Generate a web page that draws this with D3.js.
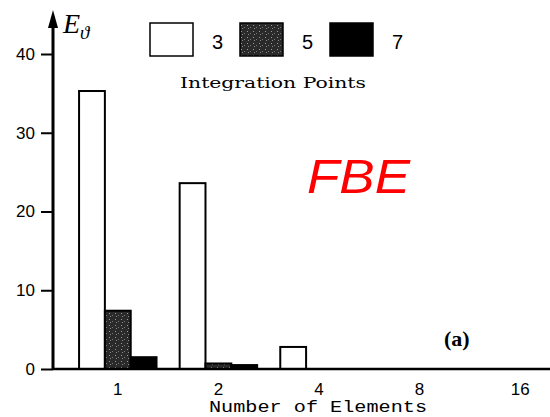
<!DOCTYPE html>
<html><head><meta charset="utf-8">
<script src="https://cdn.jsdelivr.net/npm/d3@7"></script>
<style>body{margin:0;background:#fff}</style>
</head><body>
<svg id="c" width="550" height="417"></svg>
<script>
const categories = ["1","2","4","8","16"];
const seriesNames = ["3","5","7"];
const values3 = [35.3, 23.6, 2.8, 0, 0];
const values5 = [7.4, 0.7, 0, 0, 0];
const values7 = [1.5, 0.5, 0, 0, 0];
const yTicks = [0,10,20,30,40];

const svg = d3.select("#c");
const defs = svg.append("defs");
const pat = defs.append("pattern").attr("id","tex").attr("patternUnits","userSpaceOnUse")
  .attr("width",6).attr("height",6);
pat.append("rect").attr("width",6).attr("height",6).attr("fill","#2a2a2a");
pat.append("rect").attr("x",1).attr("y",1).attr("width",1).attr("height",1).attr("fill","#999");
pat.append("rect").attr("x",4).attr("y",3).attr("width",1).attr("height",1).attr("fill","#777");
pat.append("rect").attr("x",2).attr("y",4).attr("width",1).attr("height",1).attr("fill","#888");

const fills = ["#fff","url(#tex)","#000"];
const x0 = 53;
const y = d3.scaleLinear().domain([0,40]).range([369,54]);
const x = d3.scaleBand().domain(categories).range([69, 569]).paddingInner(0.23).paddingOuter(0.1);
const xs = d3.scaleBand().domain(seriesNames).range([0, x.bandwidth()]);

const data = categories.map((c,i)=>({c, v:[values3[i],values5[i],values7[i]]}));

const g = svg.append("g");
data.forEach(d=>{
  seriesNames.forEach((s,j)=>{
    const v = d.v[j];
    if (v <= 0) return;
    g.append("rect")
      .attr("x", x(d.c)+xs(s)).attr("y", y(v))
      .attr("width", xs.bandwidth()).attr("height", y(0)-y(v))
      .attr("fill", fills[j]).attr("stroke","#000").attr("stroke-width",2);
  });
});

// baseline
svg.append("line").attr("x1",x0).attr("x2",550).attr("y1",y(0)).attr("y2",y(0))
  .attr("stroke","#000").attr("stroke-width",2.5);

// y axis
const yAxis = d3.axisLeft(y).tickValues(yTicks).tickSize(12).tickPadding(6);
const ya = svg.append("g").attr("transform",`translate(${x0},0)`).call(yAxis);
ya.select(".domain").remove();
ya.selectAll(".tick line").attr("stroke-width",2);
ya.selectAll(".tick text").attr("font-family","Liberation Sans, Arial, sans-serif").attr("font-size",17).attr("fill","#000");
svg.append("line").attr("x1",x0).attr("x2",x0).attr("y1",370).attr("y2",22)
  .attr("stroke","#000").attr("stroke-width",3);
svg.append("path").attr("d",`M${x0-5},28 L${x0},10 L${x0+5},28 Z`).attr("fill","#000");

// x axis labels
const xa = d3.axisBottom(x).tickSize(0).tickPadding(14);
const xg = svg.append("g").attr("transform",`translate(0,${y(0)})`).call(xa);
xg.select(".domain").remove();
xg.selectAll(".tick text").attr("font-family","Liberation Sans, Arial, sans-serif").attr("font-size",17).attr("fill","#000");

svg.append("text").attr("x",318).attr("y",412).attr("text-anchor","middle")
  .attr("font-family","Liberation Mono, DejaVu Sans Mono, monospace").attr("font-size",17)
  .attr("textLength",218).attr("lengthAdjust","spacingAndGlyphs")
  .text("Number of Elements");

// y label
const yl = svg.append("text").attr("x",63).attr("y",33)
  .attr("font-family","Liberation Serif, Times New Roman, serif").attr("font-style","italic").attr("font-size",28);
yl.append("tspan").text("E");
yl.append("tspan").attr("dy",6).attr("font-size",19).text("ϑ");

// legend
const legX = [150, 240, 330];
seriesNames.forEach((s,j)=>{
  svg.append("rect").attr("x",legX[j]).attr("y",23).attr("width",43).attr("height",33)
    .attr("fill",fills[j]).attr("stroke","#000").attr("stroke-width",1.5);
  svg.append("text").attr("x",legX[j]+62).attr("y",49)
    .attr("font-family","Liberation Sans, Arial, sans-serif").attr("font-size",20)
    .text(s);
});
svg.append("text").attr("x",273).attr("y",88).attr("text-anchor","middle")
  .attr("font-family","DejaVu Serif, serif").attr("font-size",15)
  .attr("textLength",186).attr("lengthAdjust","spacingAndGlyphs")
  .text("Integration Points");

svg.append("text").attr("x",307).attr("y",193)
  .attr("font-family","Liberation Sans, Arial, sans-serif").attr("font-style","italic")
  .attr("font-size",48).attr("fill","#ff0000")
  .attr("textLength",103).attr("lengthAdjust","spacingAndGlyphs").text("FBE");

svg.append("text").attr("x",444).attr("y",346)
  .attr("font-family","Liberation Serif, Times New Roman, serif").attr("font-weight","bold")
  .attr("font-size",22).text("(a)");
</script>
</body></html>
